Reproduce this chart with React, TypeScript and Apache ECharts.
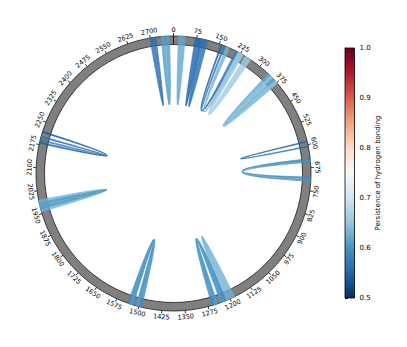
import React, { useEffect, useRef } from "react";
import * as echarts from "echarts";

// ---- data ----
const TOTAL = 2775; // residue span of the circle
const tickValues = [
  0, 75, 150, 225, 300, 375, 450, 525, 600, 675, 750, 825, 900, 975, 1050, 1125,
  1200, 1275, 1350, 1425, 1500, 1575, 1650, 1725, 1800, 1875, 1950, 2025, 2100,
  2175, 2250, 2325, 2400, 2475, 2550, 2625, 2700,
];
// hydrogen-bond chords: residue at one end, residue at the other end, ribbon width, persistence
const chordFrom = [2703, 2741, 21, 75, 94, 158, 168, 180, 225, 345, 350, 590, 648, 654, 2181, 2190, 1966, 1970, 1500, 1505, 1192, 1222, 1228];
const chordTo = [2714, 2756, 33, 86, 106, 215, 210, 225, 253, 368, 372, 606, 708, 716, 2217, 2201, 1986, 1982, 1528, 1525, 1210, 1254, 1248];
const chordWidth = [9, 12, 10, 9, 10, 4, 5, 10, 20, 20, 10, 3, 5, 6, 4, 4, 18, 8, 18, 8, 16, 16, 10];
const chordPersistence = [0.56, 0.61, 0.62, 0.55, 0.56, 0.54, 0.57, 0.63, 0.66, 0.62, 0.65, 0.55, 0.59, 0.6, 0.54, 0.56, 0.63, 0.61, 0.59, 0.61, 0.63, 0.59, 0.61];
const colorbarTicks = [0.5, 0.6, 0.7, 0.8, 0.9, 1.0];
const PMIN = 0.5;
const PMAX = 1.0;
// RdBu_r colormap
const rdbuR = ["#053061", "#2166ac", "#4393c3", "#92c5de", "#d1e5f0", "#f7f7f7", "#fddbc7", "#f4a582", "#d6604d", "#b2182b", "#67001f"];

function hexToRgb(h: string) {
  const n = parseInt(h.slice(1), 16);
  return [(n >> 16) & 255, (n >> 8) & 255, n & 255];
}
function cmap(p: number) {
  let t = (p - PMIN) / (PMAX - PMIN);
  t = Math.max(0, Math.min(1, t));
  const s = t * (rdbuR.length - 1);
  const i = Math.min(rdbuR.length - 2, Math.floor(s));
  const f = s - i;
  const a = hexToRgb(rdbuR[i]);
  const b = hexToRgb(rdbuR[i + 1]);
  const c = a.map((v, k) => Math.round(v + (b[k] - v) * f));
  return `rgb(${c[0]},${c[1]},${c[2]})`;
}

const FONT = "DejaVu Sans";
const RING_INNER = 129 / 137.5;
const LABEL_R = 144 / 137.5;

export default function App() {
  const ref = useRef<HTMLDivElement>(null);
  useEffect(() => {
    if (!ref.current) return;
    const chart = echarts.init(ref.current, null, { renderer: "svg" });
    const chordData = chordFrom.map((f, i) => [f, chordTo[i], chordWidth[i], chordPersistence[i]]);

    const option: any = {
      animation: false,
      backgroundColor: "#ffffff",
      polar: { center: [173.5, 173.5], radius: 137.5 },
      angleAxis: {
        type: "value",
        min: 0,
        max: TOTAL,
        interval: 75,
        startAngle: 90,
        clockwise: true,
        axisLine: { show: false },
        axisTick: { show: true, length: 3, lineStyle: { color: "#000", width: 0.8 } },
        axisLabel: { show: false },
        splitLine: { show: false },
      },
      radiusAxis: { type: "value", min: 0, max: 1, show: false, axisLine: { show: false }, axisLabel: { show: false }, axisTick: { show: false }, splitLine: { show: false } },
      grid: { left: 345, top: 48, width: 9.5, height: 250 },
      xAxis: { type: "value", min: 0, max: 1, show: false, gridIndex: 0 },
      yAxis: {
        type: "value",
        gridIndex: 0,
        min: PMIN,
        max: PMAX,
        interval: 0.1,
        position: "right",
        axisLine: { show: true, lineStyle: { color: "#000", width: 0.8 } },
        axisTick: { show: true, length: 3, lineStyle: { color: "#000", width: 0.8 }, customValues: colorbarTicks },
        axisLabel: { color: "#000", fontSize: 7, fontFamily: FONT, margin: 5, customValues: colorbarTicks, formatter: (v: number) => v.toFixed(1) },
        splitLine: { show: false },
        name: "Persistence of hydrogen bonding",
        nameLocation: "middle",
        nameRotate: 90,
        nameGap: 20,
        nameTextStyle: { color: "#000", fontSize: 7, fontFamily: FONT },
      },
      series: [
        {
          type: "custom",
          coordinateSystem: "polar",
          silent: true,
          z: 1,
          data: [[1, 0]],
          renderItem: (params: any, api: any) => {
            const cs = params.coordSys;
            const top = api.coord([1, 0]);
            const ix = cs.cx + (top[0] - cs.cx) * RING_INNER;
            const iy = cs.cy + (top[1] - cs.cy) * RING_INNER;
            return {
              type: "group",
              children: [
                {
                  type: "ring",
                  shape: { cx: cs.cx, cy: cs.cy, r: cs.r, r0: cs.r * RING_INNER },
                  style: { fill: "#808080", stroke: "#1a1a1a", lineWidth: 0.8 },
                },
                { type: "line", shape: { x1: ix, y1: iy, x2: top[0], y2: top[1] }, style: { stroke: "#000", lineWidth: 0.8 } },
              ],
            };
          },
        },
        {
          type: "custom",
          coordinateSystem: "polar",
          silent: true,
          z: 3,
          data: chordData,
          renderItem: (params: any, api: any) => {
            const cs = params.coordSys;
            const a = api.value(0);
            const b = api.value(1);
            const w = api.value(2);
            const p = api.value(3);
            const pt = (v: number) => api.coord([1, v]);
            const c = `${cs.cx},${cs.cy}`;
            const p1 = pt(a - w / 2);
            const p2 = pt(a + w / 2);
            const p3 = pt(b - w / 2);
            const p4 = pt(b + w / 2);
            const d = `M${p1[0]},${p1[1]} L${p2[0]},${p2[1]} Q${c} ${p3[0]},${p3[1]} L${p4[0]},${p4[1]} Q${c} ${p1[0]},${p1[1]} Z`;
            const col = cmap(p);
            return {
              type: "path",
              shape: { pathData: d },
              style: { fill: col, stroke: col, lineWidth: 0.7, opacity: 0.8 },
            };
          },
        },
        {
          type: "custom",
          coordinateSystem: "polar",
          silent: true,
          z: 4,
          data: tickValues.map((v) => [1, v]),
          renderItem: (params: any, api: any) => {
            const cs = params.coordSys;
            const v = api.value(1);
            const q = api.coord([1, v]);
            const x = cs.cx + (q[0] - cs.cx) * LABEL_R;
            const y = cs.cy + (q[1] - cs.cy) * LABEL_R;
            let th = (v / TOTAL) * 360;
            if (th > 90 && th < 270) th -= 180;
            else if (th >= 270) th -= 360;
            return {
              type: "text",
              x,
              y,
              rotation: (-th * Math.PI) / 180,
              style: { text: String(v), fontSize: 6.5, fontFamily: FONT, fill: "#000", align: "center", verticalAlign: "middle" },
            };
          },
        },
        {
          type: "custom",
          coordinateSystem: "cartesian2d",
          xAxisIndex: 0,
          yAxisIndex: 0,
          silent: true,
          data: [[0, PMIN, 1, PMAX]],
          renderItem: (params: any, api: any) => {
            const lo = api.coord([api.value(0), api.value(1)]);
            const hi = api.coord([api.value(2), api.value(3)]);
            const stops = rdbuR.map((c, i) => ({ offset: i / (rdbuR.length - 1), color: c }));
            return {
              type: "rect",
              shape: { x: lo[0], y: hi[1], width: hi[0] - lo[0], height: lo[1] - hi[1] },
              style: {
                fill: new echarts.graphic.LinearGradient(0, 1, 0, 0, stops),
                stroke: "#000",
                lineWidth: 0.8,
              },
            };
          },
        },
      ],
    };
    chart.setOption(option);
    return () => chart.dispose();
  }, []);
  return <div ref={ref} style={{ position: "fixed", left: 0, top: 0, width: 407, height: 347 }} />;
}
